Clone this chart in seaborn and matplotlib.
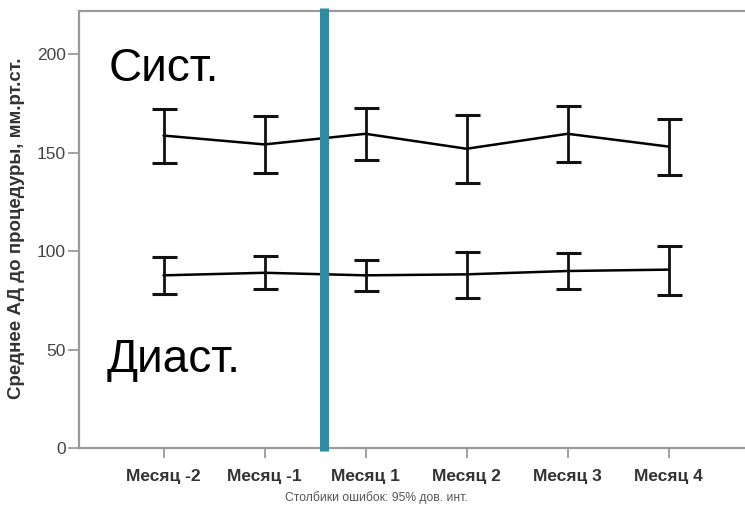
import matplotlib
matplotlib.use("Agg")
import matplotlib.pyplot as plt
import seaborn as sns
import pandas as pd
import numpy as np

# Months relative to the procedure
months = ["Месяц -2", "Месяц -1", "Месяц 1", "Месяц 2", "Месяц 3", "Месяц 4"]

# Systolic pressure: mean and 95% CI bounds
sys_mean = [158.7, 154.2, 159.6, 152.0, 159.6, 153.1]
sys_low = [144.9, 139.8, 146.4, 134.7, 145.2, 138.9]
sys_high = [172.3, 168.5, 172.6, 169.2, 173.5, 167.0]

# Diastolic pressure: mean and 95% CI bounds
dia_mean = [87.7, 89.0, 87.7, 88.2, 89.9, 90.6]
dia_low = [78.4, 80.9, 79.7, 76.3, 80.7, 77.9]
dia_high = [97.0, 97.5, 95.6, 99.8, 99.2, 102.4]

y_ticks = [0, 50, 100, 150, 200]
procedure_pos = 1.59  # procedure moment, between month -1 and month 1

sns.set_theme(style="white")
plt.rcParams["font.family"] = ["Liberation Sans", "DejaVu Sans"]

fig = plt.figure(figsize=(7.45, 5.07), dpi=100)
ax = fig.add_axes([0.106, 0.1164, 0.894, 0.862])

pos = np.arange(len(months))
df = pd.DataFrame({
    "pos": np.concatenate([pos, pos]),
    "value": sys_mean + dia_mean,
    "kind": ["Сист."] * len(months) + ["Диаст."] * len(months),
})

sns.lineplot(data=df, x="pos", y="value", units="kind", estimator=None,
             color="black", linewidth=1.8, ax=ax, legend=False)

for mean, low, high in [(sys_mean, sys_low, sys_high), (dia_mean, dia_low, dia_high)]:
    mean = np.array(mean)
    yerr = np.vstack([mean - np.array(low), np.array(high) - mean])
    ax.errorbar(pos, mean, yerr=yerr, fmt="none", ecolor="#111111",
                elinewidth=2.0, capsize=9, capthick=2.2)

# Procedure marker
ax.plot([procedure_pos, procedure_pos], [-0.008, 1.007],
        transform=ax.get_xaxis_transform(), clip_on=False,
        color="#2f8ca3", linewidth=6.5, solid_capstyle="butt", zorder=5)

ax.set_xlim(-0.837, 5.757)
ax.set_ylim(0, 222)
ax.set_xticks(pos)
ax.set_xticklabels(months, fontsize=12.5, fontweight="bold", color="#333333")
ax.set_yticks(y_ticks)
ax.set_yticklabels([str(v) for v in y_ticks], fontsize=12.5, color="#444444")

for side in ["left", "bottom", "top"]:
    ax.spines[side].set_color("#9a9a9a")
    ax.spines[side].set_linewidth(1.6)
ax.spines["right"].set_visible(False)

ax.tick_params(axis="x", which="major", bottom=True, length=7, width=1.3,
               color="#9a9a9a", pad=8)
ax.tick_params(axis="y", which="major", left=True, length=8, width=1.3,
               color="#9a9a9a", pad=1.5)

ax.set_xlabel("")
ax.set_ylabel("Среднее АД до процедуры, мм.рт.ст.", fontsize=13.5,
              fontweight="bold", color="#333333")
ax.yaxis.set_label_coords(-0.081, 0.503)

# Series labels
ax.text(-0.545, 186.3, "Сист.", fontsize=33, color="black", ha="left", va="baseline")
ax.text(-0.56, 38.6, "Диаст.", fontsize=33, color="black", ha="left", va="baseline")

fig.text(376 / 745, 1 - 498 / 507, "Столбики ошибок: 95% дов. инт.",
         fontsize=8.7, color="#555555", ha="center", va="center")

fig.savefig("out.png", dpi=100)
